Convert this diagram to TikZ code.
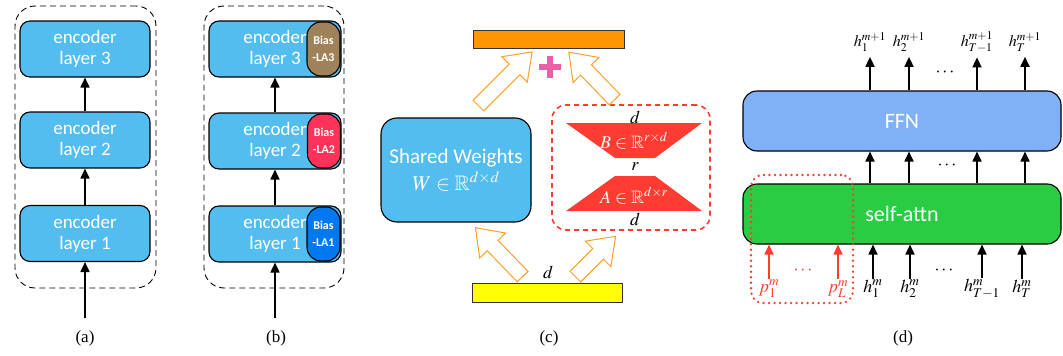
\documentclass[tikz,border=0pt]{standalone}
\usepackage{mathptmx}
\usepackage{amssymb}
\usepackage[no-math]{fontspec}
\setmainfont{Liberation Serif}
\newfontfamily\calibri{Carlito}
\usetikzlibrary{shapes.arrows,arrows.meta,positioning}
\definecolor{enc-blue}{RGB}{84,189,239}
\definecolor{bias-brown}{RGB}{160,130,90}
\definecolor{bias-red}{RGB}{255,50,90}
\definecolor{bias-blue}{RGB}{0,120,240}
\definecolor{bar-orange}{RGB}{255,150,0}
\definecolor{bar-yellow}{RGB}{255,255,0}
\definecolor{plus-pink}{RGB}{235,95,170}
\definecolor{arrow-orange}{RGB}{255,160,40}
\definecolor{lora-red}{RGB}{255,60,50}
\definecolor{ffn-blue}{RGB}{128,176,245}
\definecolor{attn-green}{RGB}{42,204,68}

\begin{document}
\begin{tikzpicture}[x=1pt, y=-1pt,
  encbox/.style={draw, line width=1.1pt, rounded corners=10pt, fill=enc-blue, text=white,
    font=\calibri\fontsize{19}{21}\selectfont, align=center, minimum height=56pt, inner sep=0pt},
  biasbox/.style={draw, line width=1.1pt, rounded corners=14pt, minimum width=33pt, minimum height=54pt,
    text=white, font=\calibri\bfseries\fontsize{12}{17}\selectfont, align=center, inner sep=0pt},
  dashbox/.style={draw, line width=0.9pt, dash pattern=on 6pt off 4pt, rounded corners=20pt},
  bar/.style={draw=black!80, line width=1pt},
  arr/.style={-{Triangle[width=9pt,length=10pt]}, line width=1.7pt},
  redarr/.style={arr, draw=lora-red},
  hollowarrow/.style={single arrow, draw=arrow-orange, fill=white, line width=1pt, inner xsep=0pt,
    inner ysep=7pt, single arrow head extend=10.5pt, single arrow tip angle=72, anchor=tail},
  mathlbl/.style={font=\fontsize{18}{20}\selectfont, inner sep=1pt},
  caption/.style={font=\fontsize{17}{20}\selectfont}]
  \useasboundingbox (0,0) rectangle (1063,356);

  % (a) plain encoder stack
  \node[dashbox, minimum width=141pt, minimum height=282pt] (aframe) at (85.5,147) {};
  \node[encbox, minimum width=130pt] (a3) at (85,49) {encoder\\layer 3};
  \node[encbox, minimum width=130pt] (a2) at (85,140) {encoder\\layer 2};
  \node[encbox, minimum width=130pt] (a1) at (85,233.5) {encoder\\layer 1};
  \coordinate (ain) at (85,318);
  \draw[arr] (ain) -- (a1.south);
  \draw[arr] (a1) -- (a2);
  \draw[arr] (a2) -- (a3);
  \node[caption] (capa) at (85,338) {(a)};

  % (b) encoder stack with bias adapters
  \node[dashbox, minimum width=140pt, minimum height=282pt] (bframe) at (274,147) {};
  \node[encbox, minimum width=132pt] (b3) at (275,49) {encoder\\layer 3};
  \node[encbox, minimum width=132pt] (b2) at (275,141) {encoder\\layer 2};
  \node[encbox, minimum width=132pt] (b1) at (275,234) {encoder\\layer 1};
  \node[biasbox, fill=bias-brown] (bias3) at (323.5,49) {Bias\\-LA3};
  \node[biasbox, fill=bias-red] (bias2) at (324,141) {Bias\\-LA2};
  \node[biasbox, fill=bias-blue] (bias1) at (323.5,234) {Bias\\-LA1};
  \coordinate (bin) at (275,318);
  \draw[arr] (bin) -- (b1.south);
  \draw[arr] (b1) -- (b2);
  \draw[arr] (b2) -- (b3);
  \node[caption] (capb) at (276,338) {(b)};

  % (c) LoRA
  \node[bar, fill=bar-orange, minimum width=151pt, minimum height=18pt] (outbar) at (548.5,39) {};
  \node[bar, fill=bar-yellow, minimum width=150pt, minimum height=19pt] (inbar) at (547,292.5) {};
  \node[mathlbl] (dw) at (548,272) {$d$};
  \fill[plus-pink] (539,64) rectangle (561,70);
  \fill[plus-pink] (547,56) rectangle (553,78);
  \node[encbox, minimum width=150pt, minimum height=104pt, rounded corners=16pt,
    font=\calibri\fontsize{21}{27}\selectfont] (shared) at (456,170) {Shared Weights\\$W\in\mathbb{R}^{d\times d}$};
  \node[draw=lora-red, line width=1.6pt, dash pattern=on 5pt off 4pt, rounded corners=14pt,
    minimum width=158pt, minimum height=125pt] (lora) at (631,167.5) {};
  \fill[lora-red] (566,123) -- (702,123) -- (655,158) -- (615,158) -- cycle;
  \fill[lora-red] (615,176) -- (655,176) -- (702,211) -- (566,211) -- cycle;
  \node[mathlbl, text=white] (bmat) at (634,141) {$B\in\mathbb{R}^{r\times d}$};
  \node[mathlbl, text=white] (amat) at (634,196) {$A\in\mathbb{R}^{d\times r}$};
  \node[mathlbl] (dtop) at (635,117) {$d$};
  \node[mathlbl] (rmid) at (635,167) {$r$};
  \node[mathlbl] (dbot) at (635,219) {$d$};
  \node[hollowarrow, minimum height=76pt, rotate=45] (up1) at (478,106) {};
  \node[hollowarrow, minimum height=66pt, rotate=134] (up2) at (615,100) {};
  \node[hollowarrow, minimum height=68pt, rotate=134] (in1) at (523,277) {};
  \node[hollowarrow, minimum height=57pt, rotate=45] (in2) at (575,277) {};
  \node[caption] (capc) at (549,338) {(c)};

  % (d) prefix tuning
  \node[draw, line width=1.1pt, rounded corners=14pt, fill=ffn-blue, text=white, minimum width=318pt,
    minimum height=60pt, font=\calibri\fontsize{22}{24}\selectfont] (ffn) at (902,121) {FFN};
  \node[draw, line width=1.1pt, rounded corners=14pt, fill=attn-green, text=white, minimum width=318pt,
    minimum height=60pt, font=\calibri\fontsize{22}{24}\selectfont] (selfattn) at (902,214) {self-attn};
  \node[draw=lora-red, line width=2.6pt, dash pattern=on 0pt off 5.5pt, line cap=round, rounded corners=12pt,
    minimum width=102pt, minimum height=128pt] (prefix) at (802,239) {};
  \foreach \x/\s [count=\i] in {870/1, 909/2, 977/{T-1}, 1025/T} {
    \node[mathlbl, inner sep=0pt, font=\fontsize{16}{18}\selectfont] (ho\i) at (\x,42) {$h_{\s}^{m+1}$};
    \draw[arr, shorten >=5pt] (ffn.north -| ho\i) -- (ho\i.south);
    \draw[arr] (selfattn.north -| ho\i) -- (ffn.south -| ho\i);
  }
  \foreach \x/\s [count=\i] in {873/1, 910/2, 982/{T-1}, 1022/T} {
    \node[mathlbl] (hi\i) at (\x,289) {$h_{\s}^{m}$};
    \draw[arr] (hi\i.north) -- (selfattn.south -| hi\i);
  }
  \node[mathlbl, text=lora-red] (p1) at (769,289) {$p_{1}^{m}$};
  \node[mathlbl, text=lora-red] (pL) at (838,289) {$p_{L}^{m}$};
  \draw[redarr] (p1.north) -- (selfattn.south -| p1);
  \draw[redarr] (pL.north) -- (selfattn.south -| pL);
  \node[mathlbl] (dots1) at (945,73) {$\cdots$};
  \node[mathlbl] (dots2) at (947,166) {$\cdots$};
  \node[mathlbl] (dots3) at (944,271) {$\cdots$};
  \node[mathlbl, text=lora-red] (dots4) at (803,271) {$\cdots$};
  \node[caption] (capd) at (903,338) {(d)};
\end{tikzpicture}
\end{document}
